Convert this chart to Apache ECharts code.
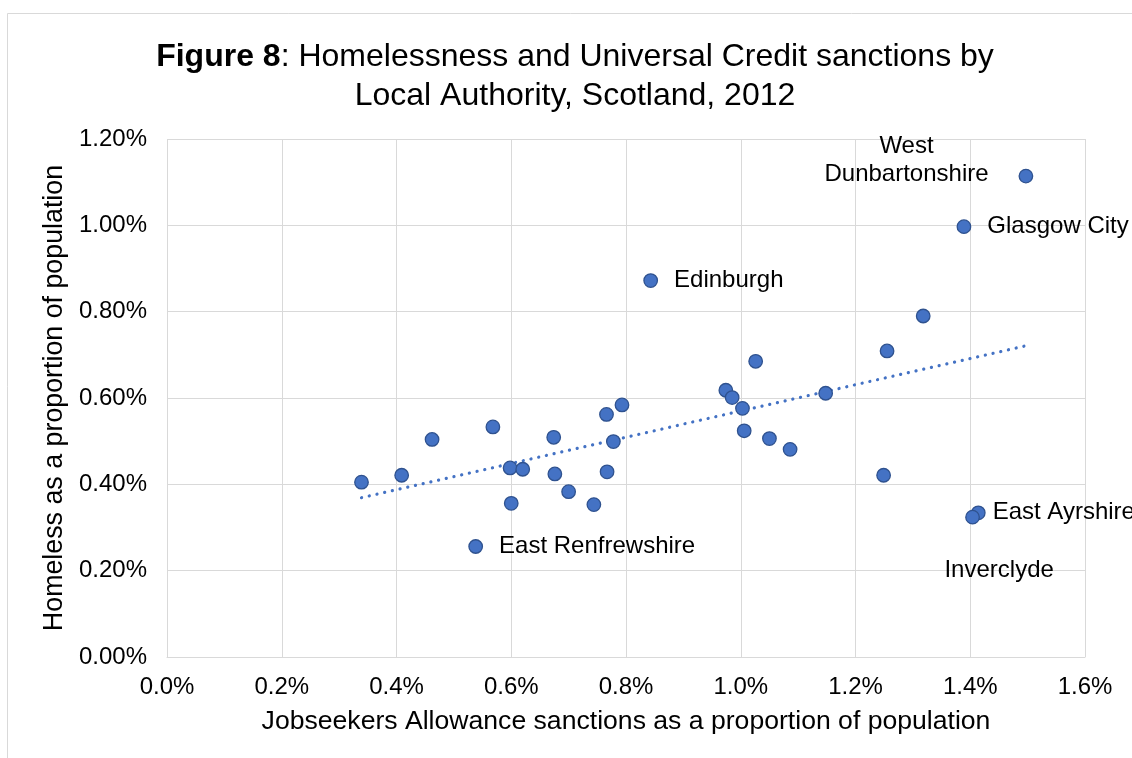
<!DOCTYPE html>
<html>
<head>
<meta charset="utf-8">
<script src="https://cdn.jsdelivr.net/npm/echarts@6/dist/echarts.min.js"></script>
<style>
html,body{margin:0;padding:0;background:#fff;}
#c{width:1132px;height:758px;}
</style>
</head>
<body>
<div id="c"></div>
<script>
// Jobseekers Allowance sanctions as % of population (x)
const jsaSanctions = [0.339,0.409,0.462,0.568,0.598,0.620,0.600,0.538,0.674,0.676,0.700,0.744,0.766,0.767,0.778,0.793,0.843,0.974,0.985,1.003,1.006,1.026,1.050,1.086,1.148,1.249,1.255,1.318,1.389,1.497,1.414,1.404];
// Homeless as % of population (y)
const homeless = [0.405,0.421,0.504,0.533,0.438,0.435,0.356,0.256,0.509,0.424,0.383,0.353,0.562,0.429,0.499,0.584,0.872,0.618,0.601,0.576,0.524,0.685,0.506,0.481,0.611,0.421,0.709,0.790,0.997,1.114,0.334,0.324];
// Local authority labels (empty = unlabelled)
const pointLabels = ["","","","","","","","East Renfrewshire","","","","","","","","","Edinburgh","","","","","","","","","","","","Glasgow City","West Dunbartonshire","East Ayrshire","Inverclyde"];
// Linear trendline endpoints
const trendX = [0.339, 1.497];
const trendY = [0.369, 0.721];
const xTicks = {min:0, max:1.6, step:0.2};
const yTicks = {min:0, max:1.2, step:0.2};

const FONT = "'Liberation Sans', Arial, sans-serif";
const labelStyles = {
  "West Dunbartonshire": {show:true, formatter:"West\nDunbartonshire", position:[-112,-8], align:"center", verticalAlign:"middle", lineHeight:28},
  "Glasgow City": {show:true, position:"right", distance:16},
  "Edinburgh": {show:true, position:"right", distance:16},
  "East Renfrewshire": {show:true, position:"right", distance:16},
  "East Ayrshire": {show:true, position:"right", distance:7},
  "Inverclyde": {show:true, position:[34,61], align:"center", verticalAlign:"middle"}
};

const pts = jsaSanctions.map((x,i)=>{
  const item = {value:[x, homeless[i]], name: pointLabels[i]};
  if (pointLabels[i]) {
    item.label = Object.assign({color:'#000', opacity:1, fontSize:24, fontFamily:FONT, formatter: pointLabels[i]}, labelStyles[pointLabels[i]]);
  }
  return item;
});

const chart = echarts.init(document.getElementById('c'), null, {renderer:'canvas'});
chart.setOption({
  animation:false,
  backgroundColor:'#fff',
  graphic:[{type:'rect', shape:{x:7.5,y:13.5,width:1200,height:800}, style:{fill:'none', stroke:'#d9d9d9', lineWidth:1}, z:-1}],
  title:{
    text:'{b|Figure 8}: Homelessness and Universal Credit sanctions by\nLocal Authority, Scotland, 2012',
    left:570, top:33, textAlign:'center',
    textStyle:{fontFamily:FONT, fontSize:32, fontWeight:'normal', color:'#000', lineHeight:39,
      rich:{b:{fontFamily:FONT, fontSize:32, fontWeight:'bold', color:'#000', lineHeight:39}}}
  },
  grid:{left:167, right:47, top:139, bottom:101, containLabel:false},
  xAxis:{
    type:'value', min:xTicks.min, max:xTicks.max, interval:xTicks.step,
    name:'Jobseekers Allowance sanctions as a proportion of population',
    nameLocation:'middle', nameGap:51,
    nameTextStyle:{fontFamily:FONT, fontSize:26.6, color:'#000'},
    axisLine:{show:true, lineStyle:{color:'#d9d9d9', width:1}},
    axisTick:{show:false},
    splitLine:{show:true, lineStyle:{color:'#d9d9d9', width:1}},
    axisLabel:{fontFamily:FONT, fontSize:24, color:'#000', margin:18, formatter:v=>v.toFixed(1)+'%'}
  },
  yAxis:{
    type:'value', min:yTicks.min, max:yTicks.max, interval:yTicks.step,
    name:'Homeless as a proportion of population',
    nameLocation:'middle', nameGap:92, nameRotate:90,
    nameTextStyle:{fontFamily:FONT, fontSize:26.8, color:'#000'},
    axisLine:{show:false},
    axisTick:{show:false},
    splitLine:{show:true, lineStyle:{color:'#d9d9d9', width:1}},
    axisLabel:{fontFamily:FONT, fontSize:24, color:'#000', margin:20, formatter:v=>v.toFixed(2)+'%'}
  },
  series:[
    {
      type:'line', data: trendX.map((x,i)=>[x, trendY[i]]), symbol:'none', z:1,
      lineStyle:{color:'#4472C4', width:3.2, type:[0.1,7.8], cap:'round'}
    },
    {
      type:'scatter', data: pts, symbol:'circle', symbolSize:13.5, z:2,
      itemStyle:{color:'#4472C4', borderColor:'#2F528F', borderWidth:1.3, opacity:1}
    }
  ]
});
</script>
</body>
</html>
